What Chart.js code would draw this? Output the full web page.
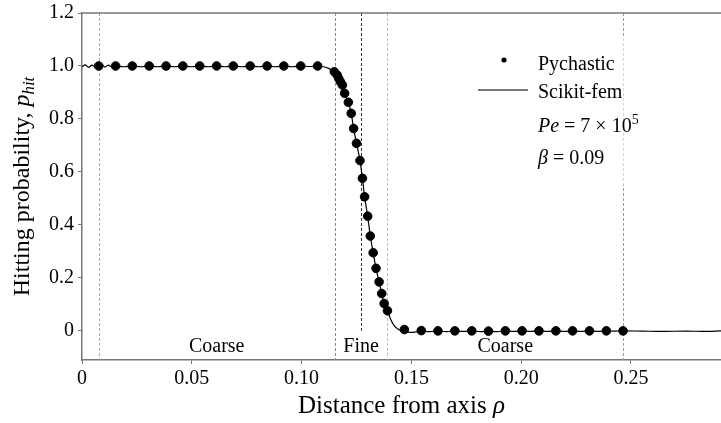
<!DOCTYPE html>
<html>
<head>
<meta charset="utf-8">
<script src="https://cdn.jsdelivr.net/npm/chart.js@4.4.0/dist/chart.umd.min.js"></script>
<style>
  html, body { margin: 0; padding: 0; background: #fff; }
</style>
</head>
<body>
<canvas id="chart" width="721" height="423"></canvas>
<script>
// Pychastic Punkte (Monte-Carlo)
const pyX = [
  0.0076, 0.0153, 0.0229, 0.0306, 0.0383, 0.0459, 0.0536, 0.0613, 0.0689, 0.0766, 0.0843, 0.0919, 0.0996, 0.1073,
  0.1149, 0.1162, 0.1169, 0.1177, 0.1186, 0.1196, 0.1213, 0.1226, 0.1237, 0.1250, 0.1266, 0.1277, 0.1287, 0.1301,
  0.1313, 0.1326, 0.1339, 0.1353, 0.1365, 0.1376, 0.1391,
  0.1468, 0.1545, 0.1621, 0.1698, 0.1775, 0.1851, 0.1928, 0.2004, 0.2081, 0.2158, 0.2234, 0.2311, 0.2388, 0.2464
];
const pyY = [
  1.0, 1.0, 1.0, 1.0, 1.0, 1.0, 1.0, 1.0, 1.0, 1.0, 1.0, 1.0, 1.0, 1.0,
  0.978, 0.966, 0.953, 0.940, 0.928, 0.897, 0.863, 0.821, 0.764, 0.708, 0.643, 0.576, 0.506, 0.433,
  0.358, 0.295, 0.236, 0.185, 0.141, 0.103, 0.076,
  0.005, 0.001, 0.0, 0.0, 0.0, -0.001, 0.0, 0.0, 0.0, 0.0, 0.0, 0.0, 0.0, 0.0
];

// Scikit-fem Kurve
const femX = [
  0, 0.0015, 0.003, 0.0045, 0.006, 0.0076, 0.009, 0.0105, 0.012, 0.0135, 0.0153, 0.019, 0.0229, 0.0268,
  0.0306, 0.0345, 0.0383, 0.0421, 0.0459, 0.0498, 0.0536, 0.0575, 0.0613, 0.0651, 0.0689, 0.0728, 0.0766,
  0.0805, 0.0843, 0.0881, 0.0919, 0.0958, 0.0996, 0.1035, 0.1073, 0.1100, 0.1125,
  0.1149, 0.1162, 0.1169, 0.1177, 0.1186, 0.1196, 0.1213, 0.1226, 0.1237, 0.1250, 0.1266, 0.1277, 0.1287,
  0.1301, 0.1313, 0.1326, 0.1339, 0.1353, 0.1365, 0.1376, 0.1391, 0.1405, 0.1420, 0.1440,
  0.1468, 0.1495, 0.1520, 0.1545, 0.1583, 0.1621, 0.1660, 0.1698, 0.1736, 0.1775, 0.1813, 0.1851, 0.1890,
  0.1928, 0.1966, 0.2004, 0.2043, 0.2081, 0.2120, 0.2158, 0.2196, 0.2234, 0.2273, 0.2311, 0.2350, 0.2388,
  0.2426, 0.2464, 0.2550, 0.2650, 0.2750, 0.2830, 0.2910
];
const femY = [
  0.997, 1.004, 0.995, 1.003, 0.996, 1.0, 1.005, 0.996, 1.003, 0.997, 1.0, 0.997, 1.0, 0.997,
  1.0, 0.997, 1.0, 0.997, 1.0, 0.997, 1.0, 0.997, 1.0, 0.997, 1.0, 0.997, 1.0,
  0.997, 1.0, 0.997, 1.0, 0.997, 1.0, 0.998, 1.0, 0.997, 0.990,
  0.978, 0.966, 0.953, 0.940, 0.928, 0.897, 0.863, 0.821, 0.764, 0.708, 0.643, 0.576, 0.506,
  0.433, 0.358, 0.295, 0.236, 0.185, 0.141, 0.103, 0.076, 0.045, 0.022, 0.006,
  -0.003, -0.006, -0.004, -0.001, -0.003, 0.0, -0.003, 0.0, -0.002, 0.0, -0.003, -0.001, -0.003,
  0.0, -0.002, 0.0, -0.002, 0.0, -0.002, 0.0, -0.002, 0.0, -0.002, 0.0, -0.002, 0.0,
  -0.001, 0.0, -0.001, -0.002, -0.001, -0.002, 0.0
];

// Achsen
const xTicks = [0, 0.05, 0.10, 0.15, 0.20, 0.25];
const xTickLabels = ['0', '0.05', '0.10', '0.15', '0.20', '0.25'];
const yTicks = [0, 0.2, 0.4, 0.6, 0.8, 1.0, 1.2];
const yTickLabels = ['0', '0.2', '0.4', '0.6', '0.8', '1.0', '1.2'];

// Gittergrenzen (gestrichelte Linien) und Bereichsnamen
const meshLines = [0.0076, 0.1151, 0.1271, 0.1391, 0.2464];
const regionNames = ['Coarse', 'Fine', 'Coarse'];

const FONT = 'Liberation Serif, Times New Roman, serif';
Chart.defaults.font.family = FONT;
Chart.defaults.color = '#000';

// Text mit kursiven Teilen / Hoch- und Tiefstellung
function richText(ctx, runs, x, y, size, align) {
  function setFont(r) {
    const s = (r.sub || r.sup) ? size * 0.7 : size;
    ctx.font = (r.it ? 'italic ' : '') + s + 'px ' + FONT;
  }
  let w = 0;
  runs.forEach(r => { setFont(r); w += ctx.measureText(r.t).width; });
  let cx = align === 'center' ? x - w / 2 : x;
  ctx.textAlign = 'left';
  ctx.textBaseline = 'alphabetic';
  runs.forEach(r => {
    setFont(r);
    let dy = 0;
    if (r.sub) dy = size * 0.22;
    if (r.sup) dy = -size * 0.4;
    ctx.fillText(r.t, cx, y + dy);
    cx += ctx.measureText(r.t).width;
  });
}

const meshPlugin = {
  id: 'mesh',
  beforeDatasetsDraw(chart) {
    const ctx = chart.ctx;
    const xs = chart.scales.x, ys = chart.scales.y;
    const area = chart.chartArea;
    const colors = ['#aaa', '#8a8a8a', '#333', '#bbb', '#9a9a9a'];
    ctx.save();
    ctx.lineWidth = 1;
    ctx.setLineDash([3, 2]);
    meshLines.forEach((v, i) => {
      const px = Math.round(xs.getPixelForValue(v)) + 0.5;
      const bottom = i === 2 ? ys.getPixelForValue(0) : area.bottom;
      ctx.strokeStyle = colors[i];
      ctx.beginPath();
      ctx.moveTo(px, area.top);
      ctx.lineTo(px, bottom);
      ctx.stroke();
    });
    ctx.restore();
  }
};

const annotPlugin = {
  id: 'annot',
  afterDraw(chart) {
    const ctx = chart.ctx;
    const xs = chart.scales.x, ys = chart.scales.y;
    const area = chart.chartArea;
    ctx.save();

    // obere Rahmenlinie
    ctx.strokeStyle = '#777';
    ctx.lineWidth = 1.5;
    ctx.beginPath();
    ctx.moveTo(area.left, area.top);
    ctx.lineTo(area.right, area.top);
    ctx.stroke();

    // Bereichsnamen
    ctx.fillStyle = '#000';
    ctx.font = '20px ' + FONT;
    ctx.textAlign = 'center';
    ctx.textBaseline = 'middle';
    const bounds = [meshLines[0], meshLines[1], meshLines[3], meshLines[4]];
    regionNames.forEach((name, i) => {
      const mid = (bounds[i] + bounds[i + 1]) / 2;
      ctx.fillText(name, xs.getPixelForValue(mid), ys.getPixelForValue(-0.06));
    });

    // Legende
    ctx.fillStyle = 'rgba(255,255,255,0.6)';
    ctx.fillRect(478, 38, 172, 147);
    ctx.fillStyle = '#000';
    ctx.beginPath();
    ctx.arc(504, 60, 2.6, 0, Math.PI * 2);
    ctx.fill();
    ctx.strokeStyle = '#777';
    ctx.lineWidth = 2;
    ctx.beginPath();
    ctx.moveTo(478, 90);
    ctx.lineTo(528, 90);
    ctx.stroke();
    richText(ctx, [{ t: 'Pychastic' }], 538, 70, 20, 'left');
    richText(ctx, [{ t: 'Scikit-fem' }], 538, 98, 20, 'left');
    richText(ctx, [{ t: 'Pe', it: true }, { t: ' = 7 × 10' }, { t: '5', sup: true }], 538, 132, 20, 'left');
    richText(ctx, [{ t: 'β', it: true }, { t: ' = 0.09' }], 538, 164, 20, 'left');

    // Achsentitel
    richText(ctx, [{ t: 'Distance from axis ' }, { t: 'ρ', it: true }], (area.left + area.right) / 2, 413, 25, 'center');
    ctx.translate(29, (area.top + area.bottom) / 2);
    ctx.rotate(-Math.PI / 2);
    richText(ctx, [{ t: 'Hitting probability, ' }, { t: 'p', it: true }, { t: 'hit', it: true, sub: true }], 0, 0, 24, 'center');
    ctx.restore();
  }
};

const ctx = document.getElementById('chart');
new Chart(ctx, {
  type: 'scatter',
  data: {
    datasets: [
      {
        label: 'Pychastic',
        data: pyX.map((x, i) => ({ x: x, y: pyY[i] })),
        backgroundColor: '#000',
        borderColor: '#000',
        pointRadius: 4.3,
        pointHoverRadius: 4.3,
        showLine: false,
        order: 0
      },
      {
        label: 'Scikit-fem',
        type: 'line',
        data: femX.map((x, i) => ({ x: x, y: femY[i] })),
        borderColor: '#000',
        borderWidth: 1.2,
        pointRadius: 0,
        cubicInterpolationMode: 'monotone',
        fill: false,
        order: 1
      }
    ]
  },
  options: {
    responsive: false,
    animation: false,
    layout: { autoPadding: false, padding: { top: 13, right: 0, bottom: 0, left: 0 } },
    plugins: { legend: { display: false }, tooltip: { enabled: false } },
    scales: {
      x: {
        type: 'linear',
        min: 0,
        max: 0.291,
        afterBuildTicks: s => { s.ticks = xTicks.map(v => ({ value: v })); },
        afterFit: s => { s.height = 63; s.paddingLeft = 0; s.paddingRight = 0; },
        ticks: {
          callback: (v, i) => xTickLabels[i],
          font: { size: 20 },
          padding: 3,
          maxRotation: 0,
          autoSkip: false
        },
        grid: { display: true, drawOnChartArea: false, drawTicks: true, tickLength: 4, color: '#777', lineWidth: 1 },
        border: { display: true, color: '#777', width: 1.5 }
      },
      y: {
        type: 'linear',
        min: -0.11,
        max: 1.2,
        afterBuildTicks: s => { s.ticks = yTicks.map(v => ({ value: v })); },
        afterFit: s => { s.width = 82; s.paddingTop = 0; s.paddingBottom = 0; },
        ticks: {
          callback: (v, i) => yTickLabels[i],
          font: { size: 20 },
          padding: 4,
          autoSkip: false
        },
        grid: { display: true, drawOnChartArea: false, drawTicks: true, tickLength: 4, color: '#777', lineWidth: 1 },
        border: { display: true, color: '#777', width: 1.5 }
      }
    }
  },
  plugins: [meshPlugin, annotPlugin]
});
</script>
</body>
</html>
